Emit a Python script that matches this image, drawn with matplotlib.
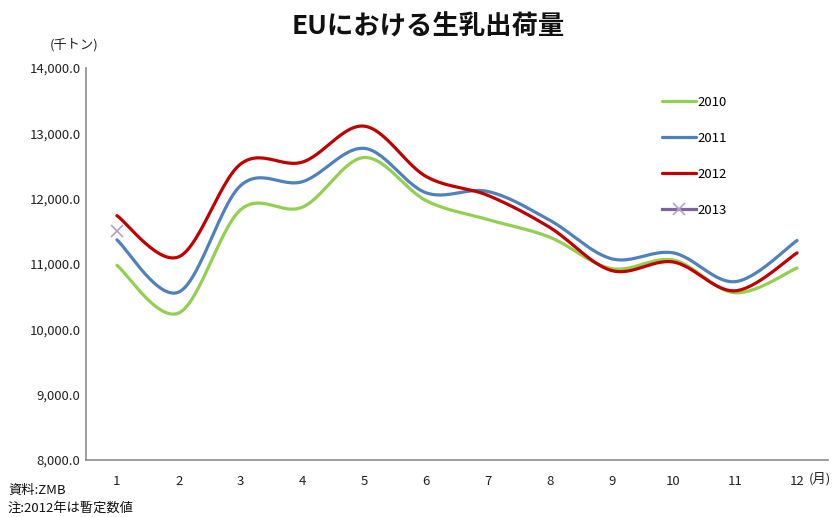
import numpy as np
import matplotlib
matplotlib.use('Agg')
import matplotlib.pyplot as plt
from matplotlib.ticker import FuncFormatter

plt.rcParams['font.family'] = ['Noto Sans CJK JP', 'DejaVu Sans']

months = np.arange(1, 13)
y2010 = [10980, 10250, 11830, 11870, 12630, 11970, 11680, 11410, 10930, 11060, 10560, 10940]
y2011 = [11370, 10570, 12200, 12260, 12770, 12090, 12110, 11670, 11080, 11170, 10730, 11360]
y2012 = [11740, 11110, 12530, 12560, 13110, 12340, 12050, 11560, 10900, 11030, 10590, 11170]
y2013 = [11500]
series_colors = {'2010': '#92d050', '2011': '#4f81bd', '2012': '#c00000', '2013': '#8064a2'}


def smooth(x, y, n=30):
    # catmull-rom style bezier like excel's smoothed line
    x = np.asarray(x, float)
    y = np.asarray(y, float)
    px, py = [], []
    for i in range(len(x) - 1):
        x0, y0 = (x[i - 1], y[i - 1]) if i > 0 else (x[i], y[i])
        x3, y3 = (x[i + 2], y[i + 2]) if i + 2 < len(x) else (x[i + 1], y[i + 1])
        x1, y1 = x[i], y[i]
        x2, y2 = x[i + 1], y[i + 1]
        c1x, c1y = x1 + (x2 - x0) / 6, y1 + (y2 - y0) / 6
        c2x, c2y = x2 - (x3 - x1) / 6, y2 - (y3 - y1) / 6
        t = np.linspace(0, 1, n)
        px.extend((1 - t) ** 3 * x1 + 3 * (1 - t) ** 2 * t * c1x + 3 * (1 - t) * t ** 2 * c2x + t ** 3 * x2)
        py.extend((1 - t) ** 3 * y1 + 3 * (1 - t) ** 2 * t * c1y + 3 * (1 - t) * t ** 2 * c2y + t ** 3 * y2)
    return px, py


fig = plt.figure(figsize=(8.32, 5.17), dpi=100)
ax = fig.add_axes([86 / 832, 1 - 460 / 517, (828 - 86) / 832, (460 - 68) / 517])

for name, vals in [('2010', y2010), ('2011', y2011), ('2012', y2012)]:
    sx, sy = smooth(months, vals)
    ax.plot(sx, sy, color=series_colors[name], lw=2.3, label=name, solid_capstyle='round')
ax.plot(months[:len(y2013)], y2013, color=series_colors['2013'], lw=2.3, marker='x',
        markersize=8, markeredgecolor='#b3a2c7', markeredgewidth=1.2, label='2013')

ax.set_xlim(0.5, 12.5)
ax.set_ylim(8000, 14000)
ax.set_xticks(months)
ax.set_yticks(np.arange(8000, 14001, 1000))
ax.yaxis.set_major_formatter(FuncFormatter(lambda v, p: f'{v:,.1f}'))
ax.tick_params(length=0, labelsize=9.5, colors='#222222')
ax.tick_params(axis='x', pad=11)
ax.tick_params(axis='y', pad=4)
for s in ['top', 'right']:
    ax.spines[s].set_visible(False)
for s in ['left', 'bottom']:
    ax.spines[s].set_color('#8c8c8c')
    ax.spines[s].set_linewidth(1.2)

ax.legend(loc='upper left', bbox_to_anchor=(0.76, 0.96), frameon=False, fontsize=9.5,
          handlelength=2.6, handletextpad=0.1, labelspacing=1.75)

fig.text(428 / 832, 1 - 27 / 517, 'EUにおける生乳出荷量', ha='center', va='center',
         fontsize=19, fontweight='bold', color='#111111')
fig.text(74 / 832, 1 - 45 / 517, '(千トン)', ha='center', va='center', fontsize=9.5, color='#222222')
fig.text(820 / 832, 1 - 479 / 517, '(月)', ha='center', va='center', fontsize=9.5, color='#222222')
fig.text(8 / 832, 1 - 490 / 517, '資料:ZMB', ha='left', va='center', fontsize=9.5, color='#111111')
fig.text(8 / 832, 1 - 508 / 517, '注:2012年は暫定数値', ha='left', va='center', fontsize=9.5, color='#111111')

fig.savefig('out.png', dpi=100)
